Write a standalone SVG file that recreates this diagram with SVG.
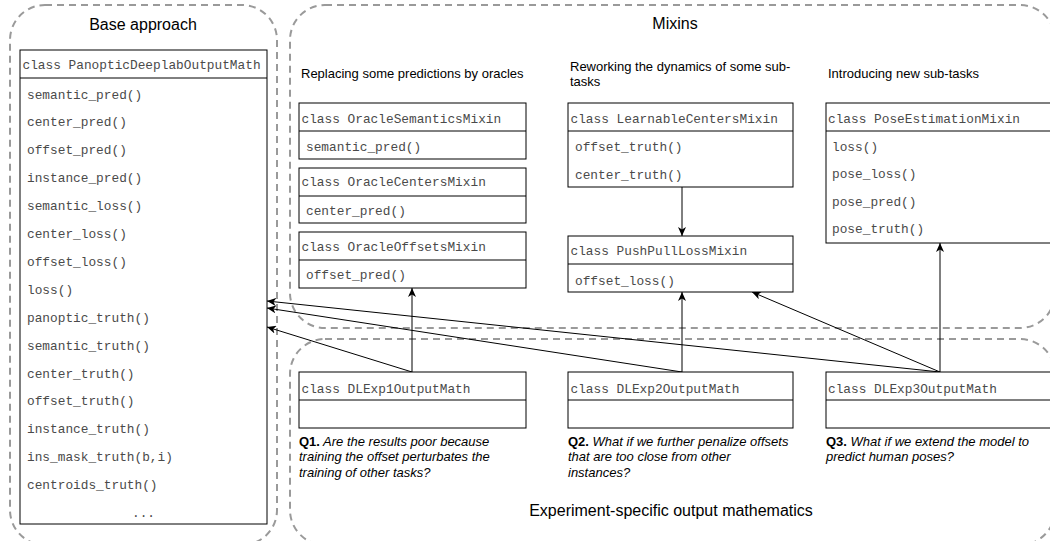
<svg xmlns="http://www.w3.org/2000/svg" width="1050" height="541" viewBox="0 0 1050 541">
<defs>
<style>
.cont{fill:none;stroke:#9a9a9a;stroke-width:2;stroke-dasharray:7 5}
.box{fill:#fff;stroke:#000;stroke-width:1}
.sep{stroke:#000;stroke-width:1}
.mono{font-family:"Liberation Mono","Courier New",monospace;font-size:12.8px;fill:#4a4a4a}
.title{font-family:"Liberation Sans",Arial,sans-serif;font-size:16px;fill:#000}
.lbl{font-family:"Liberation Sans",Arial,sans-serif;font-size:13px;fill:#000}
.q{font-family:"Liberation Sans",Arial,sans-serif;font-size:13px;fill:#000;font-style:italic}
.conn line{stroke:#000;stroke-width:1;fill:none;marker-end:url(#arr)}
</style>
<marker id="arr" markerUnits="userSpaceOnUse" markerWidth="10" markerHeight="8" refX="9" refY="4" orient="auto">
<path d="M9,4 L0,0 L2.5,4 L0,8 Z" fill="#000"/>
</marker>
</defs>
<rect width="1050" height="541" fill="#fff"/>

<g id="container-base">
<rect class="cont" x="10" y="5" width="267" height="540" rx="35"/>
<text class="title" x="143" y="30" text-anchor="middle">Base approach</text>
</g>
<g id="container-mixins">
<rect class="cont" x="290" y="5" width="765" height="323" rx="35"/>
<text class="title" x="675" y="29" text-anchor="middle">Mixins</text>
<text class="lbl" x="301" y="78">Replacing some predictions by oracles</text>
<text class="lbl" x="570" y="70.5">Reworking the dynamics of some sub-</text>
<text class="lbl" x="570" y="85.5">tasks</text>
<text class="lbl" x="828" y="78">Introducing new sub-tasks</text>
</g>
<g id="container-experiments">
<rect class="cont" x="290" y="339" width="765" height="206" rx="35"/>
<text class="title" x="671" y="516" text-anchor="middle">Experiment-specific output mathematics</text>
<text class="lbl" x="299" y="445.5"><tspan font-weight="bold">Q1.</tspan><tspan class="q"> Are the results poor because</tspan></text>
<text class="q" x="299" y="461">training the offset perturbates the</text>
<text class="q" x="299" y="476.5">training of other tasks?</text>
<text class="lbl" x="568" y="445.5"><tspan font-weight="bold">Q2.</tspan><tspan class="q"> What if we further penalize offsets</tspan></text>
<text class="q" x="568" y="461">that are too close from other</text>
<text class="q" x="568" y="476.5">instances?</text>
<text class="lbl" x="826" y="445.5"><tspan font-weight="bold">Q3.</tspan><tspan class="q"> What if we extend the model to</tspan></text>
<text class="q" x="826" y="461">predict human poses?</text>
</g>

<g id="connectors" class="conn">
<line x1="412" y1="372" x2="412" y2="288"/>
<line x1="412" y1="372" x2="267" y2="327"/>
<line x1="682" y1="372" x2="267" y2="308"/>
<line x1="940" y1="372" x2="267" y2="301"/>
<line x1="682" y1="187" x2="682" y2="236"/>
<line x1="682" y1="372" x2="682" y2="292"/>
<line x1="940" y1="372" x2="752" y2="292"/>
<line x1="940" y1="372" x2="940" y2="243"/>
</g>

<g id="PanopticDeeplabOutputMath">
<rect class="box" x="20" y="50" width="247" height="474"/>
<line class="sep" x1="20" y1="78" x2="267" y2="78"/>
<text class="mono" x="22.5" y="69">class PanopticDeeplabOutputMath</text>
<text class="mono" x="27" y="98.5">semantic_pred()</text>
<text class="mono" x="27" y="126.4">center_pred()</text>
<text class="mono" x="27" y="154.3">offset_pred()</text>
<text class="mono" x="27" y="182.2">instance_pred()</text>
<text class="mono" x="27" y="210.1">semantic_loss()</text>
<text class="mono" x="27" y="238">center_loss()</text>
<text class="mono" x="27" y="265.9">offset_loss()</text>
<text class="mono" x="27" y="293.8">loss()</text>
<text class="mono" x="27" y="321.7">panoptic_truth()</text>
<text class="mono" x="27" y="349.6">semantic_truth()</text>
<text class="mono" x="27" y="377.5">center_truth()</text>
<text class="mono" x="27" y="405.4">offset_truth()</text>
<text class="mono" x="27" y="433.3">instance_truth()</text>
<text class="mono" x="27" y="461.2">ins_mask_truth(b,i)</text>
<text class="mono" x="27" y="489.1">centroids_truth()</text>
<text class="mono" x="143.5" y="517" text-anchor="middle">...</text>
</g>

<g id="OracleSemanticsMixin">
<rect class="box" x="299" y="103" width="227" height="56"/>
<line class="sep" x1="299" y1="131" x2="526" y2="131"/>
<text class="mono" x="301.5" y="122.5">class OracleSemanticsMixin</text>
<text class="mono" x="306" y="151">semantic_pred()</text>
</g>
<g id="OracleCentersMixin">
<rect class="box" x="299" y="168" width="227" height="55"/>
<line class="sep" x1="299" y1="196" x2="526" y2="196"/>
<text class="mono" x="301.5" y="186">class OracleCentersMixin</text>
<text class="mono" x="306" y="215">center_pred()</text>
</g>
<g id="OracleOffsetsMixin">
<rect class="box" x="299" y="232" width="227" height="56"/>
<line class="sep" x1="299" y1="260" x2="526" y2="260"/>
<text class="mono" x="301.5" y="250.5">class OracleOffsetsMixin</text>
<text class="mono" x="306" y="279">offset_pred()</text>
</g>
<g id="LearnableCentersMixin">
<rect class="box" x="568" y="103" width="225" height="84"/>
<line class="sep" x1="568" y1="131" x2="793" y2="131"/>
<text class="mono" x="570.5" y="122.5">class LearnableCentersMixin</text>
<text class="mono" x="575" y="151">offset_truth()</text>
<text class="mono" x="575" y="178.5">center_truth()</text>
</g>
<g id="PushPullLossMixin">
<rect class="box" x="568" y="236" width="225" height="56"/>
<line class="sep" x1="568" y1="264" x2="793" y2="264"/>
<text class="mono" x="570.5" y="254.5">class PushPullLossMixin</text>
<text class="mono" x="575" y="285">offset_loss()</text>
</g>
<g id="PoseEstimationMixin">
<rect class="box" x="826" y="103" width="228" height="140"/>
<line class="sep" x1="826" y1="131" x2="1054" y2="131"/>
<text class="mono" x="828" y="122.5">class PoseEstimationMixin</text>
<text class="mono" x="832" y="151">loss()</text>
<text class="mono" x="832" y="178.3">pose_loss()</text>
<text class="mono" x="832" y="205.6">pose_pred()</text>
<text class="mono" x="832" y="233">pose_truth()</text>
</g>

<g id="DLExp1OutputMath">
<rect class="box" x="299" y="372" width="227" height="56"/>
<line class="sep" x1="299" y1="400" x2="526" y2="400"/>
<text class="mono" x="301.5" y="392.5">class DLExp1OutputMath</text>
</g>
<g id="DLExp2OutputMath">
<rect class="box" x="568" y="372" width="225" height="56"/>
<line class="sep" x1="568" y1="400" x2="793" y2="400"/>
<text class="mono" x="570.5" y="392.5">class DLExp2OutputMath</text>
</g>
<g id="DLExp3OutputMath">
<rect class="box" x="826" y="372" width="228" height="56"/>
<line class="sep" x1="826" y1="400" x2="1054" y2="400"/>
<text class="mono" x="828" y="392.5">class DLExp3OutputMath</text>
</g>
</svg>
